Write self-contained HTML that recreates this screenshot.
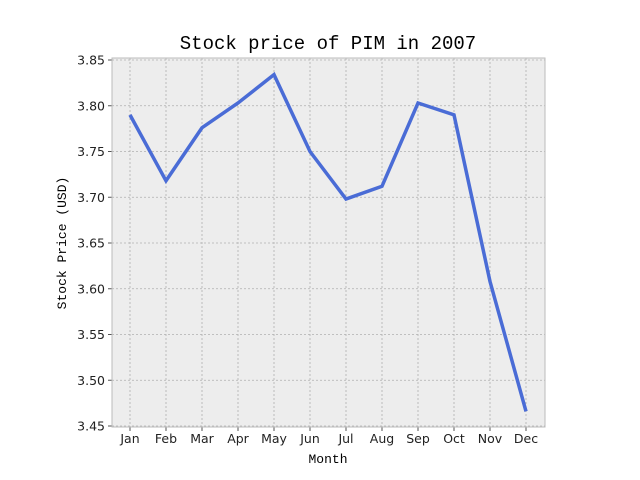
<!DOCTYPE html>
<html><head><meta charset="utf-8"><style>body{margin:0;background:#fff}svg{display:block}</style></head>
<body>
<svg id="c" width="640" height="480" xmlns="http://www.w3.org/2000/svg"></svg>
<script>
const months=["Jan","Feb","Mar","Apr","May","Jun","Jul","Aug","Sep","Oct","Nov","Dec"];
const prices=[3.790,3.718,3.776,3.803,3.834,3.750,3.698,3.712,3.803,3.790,3.608,3.466];
const yTicks=[3.45,3.50,3.55,3.60,3.65,3.70,3.75,3.80,3.85];
const NS="http://www.w3.org/2000/svg";
const svg=document.getElementById('c');
const L=112,R=545,T=58,B=427;
const xs=i=>130+i*36;
const ys=v=>60+(3.85-v)*915;
function el(t,a,p){const e=document.createElementNS(NS,t);for(const k in a)e.setAttribute(k,a[k]);(p||svg).appendChild(e);return e;}
const bg=el('rect',{x:L,y:T,width:R-L,height:B-T,fill:'#ededed'});


const font='"Liberation Mono", "DejaVu Sans Mono", monospace';
const sfont='"DejaVu Sans", "Liberation Sans", sans-serif';
months.forEach((m,i)=>{
  const x=xs(i);
  const g=el('line',{x1:x,x2:x,y1:T,y2:B,stroke:'#b0b0b0','stroke-width':0.8,'stroke-dasharray':'2,2'});
  
  
  el('line',{x1:x,x2:x,y1:B,y2:B+4,stroke:'#555','stroke-width':1});
  const t=el('text',{x:x,y:B+16,'text-anchor':'middle','font-family':sfont,'font-size':12.5,fill:'#222'});
  t.textContent=m;
  
  
});
yTicks.forEach(v=>{
  const y=ys(v);
  const g=el('line',{x1:L,x2:R,y1:y,y2:y,stroke:'#b0b0b0','stroke-width':0.8,'stroke-dasharray':'2,2'});
  
  
  el('line',{x1:L-4,x2:L,y1:y,y2:y,stroke:'#555','stroke-width':1});
  const t=el('text',{x:L-7,y:y+4.5,'text-anchor':'end','font-family':sfont,'font-size':12.5,fill:'#222'});
  t.textContent=v.toFixed(2);
  
  
});
const fr=el('rect',{x:L,y:T,width:R-L,height:B-T,fill:'none',stroke:'#bbb','stroke-width':1});


const line=el('polyline',{points:prices.map((v,i)=>xs(i)+','+ys(v)).join(' '),fill:'none',stroke:'#4a6cd6','stroke-width':3.5,'stroke-linejoin':'miter'});


const title=el('text',{x:328,y:49,'text-anchor':'middle','font-family':font,'font-size':19,fill:'#000'});
title.textContent='Stock price of PIM in 2007';


const xl=el('text',{x:328,y:463,'text-anchor':'middle','font-family':font,'font-size':13,fill:'#000'});
xl.textContent='Month';


const yl=el('text',{x:0,y:0,'text-anchor':'middle','font-family':font,'font-size':13,fill:'#000',transform:'translate(66,243) rotate(-90)'});
yl.textContent='Stock Price (USD)';


</script>
</body></html>
